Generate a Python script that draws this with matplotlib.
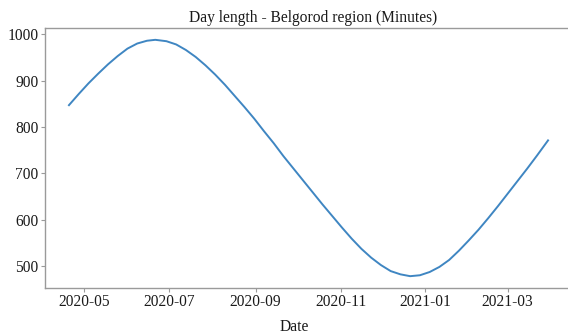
import pandas as pd
import matplotlib.pyplot as plt
import matplotlib.dates as mdates

# Day length in minutes for Belgorod region, Apr 2020 - Mar 2021 (weekly)
dates = [
    "2020-04-20", "2020-04-27", "2020-05-04", "2020-05-11", "2020-05-18",
    "2020-05-25", "2020-06-01", "2020-06-08", "2020-06-15", "2020-06-21",
    "2020-06-29", "2020-07-06", "2020-07-13", "2020-07-20", "2020-07-27",
    "2020-08-03", "2020-08-10", "2020-08-17", "2020-08-24", "2020-08-31",
    "2020-09-07", "2020-09-14", "2020-09-21", "2020-09-28", "2020-10-05",
    "2020-10-12", "2020-10-19", "2020-10-26", "2020-11-02", "2020-11-09",
    "2020-11-16", "2020-11-23", "2020-11-30", "2020-12-07", "2020-12-14",
    "2020-12-21", "2020-12-28", "2021-01-04", "2021-01-11", "2021-01-18",
    "2021-01-25", "2021-02-01", "2021-02-08", "2021-02-15", "2021-02-22",
    "2021-03-01", "2021-03-08", "2021-03-15", "2021-03-22", "2021-03-30",
]
day_length = [
    847, 871, 894, 915, 935,
    953, 969, 980, 986, 988,
    985, 978, 966, 951, 933,
    913, 891, 867, 843, 818,
    791, 765, 737, 711, 685,
    659, 633, 608, 583, 559,
    537, 518, 502, 489, 482,
    478, 480, 487, 498, 513,
    533, 555, 578, 603, 629,
    656, 683, 710, 738, 771,
]

df = pd.DataFrame({"Date": pd.to_datetime(dates), "Minutes": day_length})

plt.rcParams['font.family'] = ['Liberation Serif', 'DejaVu Serif']

fig = plt.figure(figsize=(5.68, 3.34), dpi=100)
ax = fig.add_axes([45 / 568, 46 / 334, 527 / 568, 260 / 334])

ax.plot(df["Date"], df["Minutes"], color='#3f86c2', linewidth=1.4)
ax.margins(x=0.05, y=0.05)

ax.xaxis.set_major_locator(mdates.MonthLocator(bymonth=[1, 3, 5, 7, 9, 11]))
ax.xaxis.set_major_formatter(mdates.DateFormatter('%Y-%m'))
ax.set_yticks([500, 600, 700, 800, 900, 1000])

for side in ['left', 'bottom', 'top']:
    ax.spines[side].set_color('#9a9a9a')
    ax.spines[side].set_linewidth(1.0)
ax.spines['right'].set_visible(False)

ax.tick_params(axis='both', labelsize=11.2, colors='#9a9a9a', labelcolor='#1a1a1a',
               length=3, width=0.8, pad=1.5)

ax.set_title('Day length - Belgorod region (Minutes)', fontsize=11.2, x=0.508, pad=4,
             color='#1a1a1a')
ax.set_xlabel('Date', fontsize=11.2, color='#1a1a1a')
ax.xaxis.set_label_coords(0.473, -0.118)

plt.savefig('out.png', dpi=100)
